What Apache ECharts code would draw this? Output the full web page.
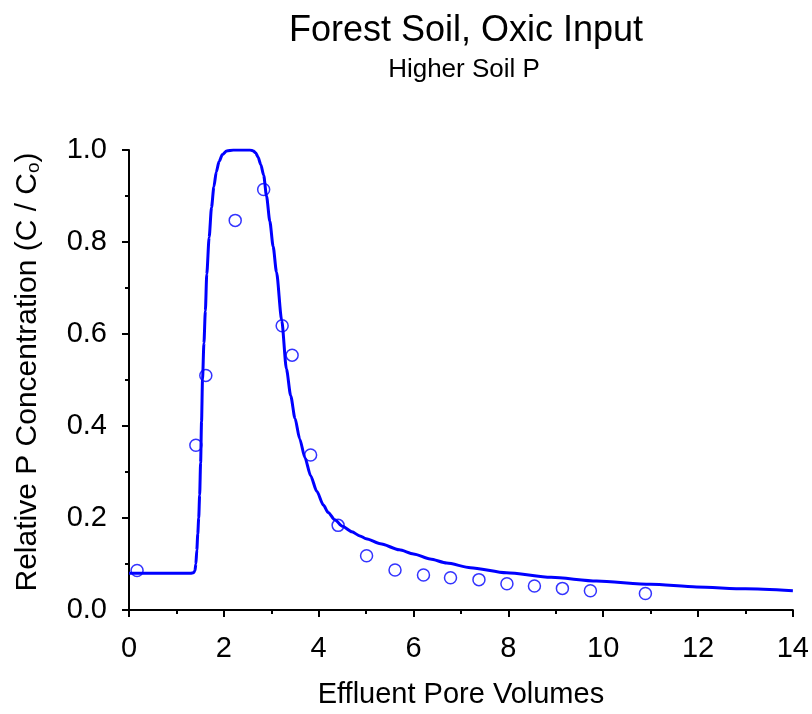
<!DOCTYPE html>
<html>
<head>
<meta charset="utf-8">
<script src="https://cdn.jsdelivr.net/npm/echarts@6/dist/echarts.min.js"></script>
<style>
html,body{margin:0;padding:0;background:#fff;}
#chart{width:812px;height:714px;}
</style>
</head>
<body>
<div id="chart"></div>
<script>
// Model curve
var curveX = [0, 0.5, 1.0, 1.3, 1.36, 1.39, 1.41, 1.43, 1.45, 1.47, 1.49, 1.51, 1.53, 1.55, 1.58, 1.61, 1.64, 1.69, 1.74, 1.79, 1.84, 1.9, 1.97, 2.06, 2.2, 2.4, 2.55, 2.62, 2.67, 2.72, 2.78, 2.84, 2.9, 2.97, 3.04, 3.11, 3.22, 3.32, 3.41, 3.5, 3.6, 3.71, 3.83, 3.96, 4.1, 4.2, 4.34, 4.5, 4.7, 4.87, 5.0, 5.3, 5.7, 6.0, 6.35, 6.7, 7.2, 7.96, 8.9, 9.86, 11.0, 11.97, 13.0, 14.0];
var curveY = [0.080, 0.080, 0.080, 0.080, 0.081, 0.085, 0.10, 0.13, 0.165, 0.20, 0.25, 0.32, 0.41, 0.50, 0.58, 0.65, 0.73, 0.81, 0.875, 0.92, 0.952, 0.975, 0.99, 0.998, 1.0, 1.0, 1.0, 0.998, 0.994, 0.985, 0.968, 0.945, 0.90, 0.845, 0.79, 0.735, 0.63, 0.524, 0.466, 0.417, 0.372, 0.331, 0.292, 0.258, 0.228, 0.212, 0.196, 0.182, 0.170, 0.161, 0.155, 0.144, 0.131, 0.122, 0.111, 0.102, 0.092, 0.081, 0.071, 0.063, 0.056, 0.050, 0.046, 0.042];
// Observed points
var obsX = [0.17, 1.41, 1.62, 2.24, 2.84, 3.23, 3.44, 3.83, 4.41, 5.01, 5.61, 6.21, 6.78, 7.38, 7.97, 8.55, 9.14, 9.73, 10.89];
var obsY = [0.086, 0.358, 0.51, 0.847, 0.914, 0.618, 0.554, 0.337, 0.184, 0.118, 0.087, 0.076, 0.070, 0.066, 0.057, 0.052, 0.047, 0.042, 0.036];
// Texts
var titleText = 'Forest Soil, Oxic Input';
var subText = 'Higher Soil P';
var xName = 'Effluent Pore Volumes';
var yName = 'Relative P Concentration (C / C{s|o})';

var FONT = '"Liberation Sans", Arial, sans-serif';
var curve = curveX.map(function (x, i) { return [x, curveY[i]]; });
var obs = obsX.map(function (x, i) { return [x, obsY[i]]; });

var chart = echarts.init(document.getElementById('chart'), null, {renderer: 'canvas'});
chart.setOption({
  backgroundColor: '#ffffff',
  animation: false,
  title: [
    {text: titleText, left: 461, top: 8, textAlign: 'center',
     textStyle: {fontFamily: FONT, fontSize: 36, fontWeight: 'normal', color: '#000'}},
    {text: subText, left: 459, top: 52, textAlign: 'center',
     textStyle: {fontFamily: FONT, fontSize: 26, fontWeight: 'normal', color: '#000'}}
  ],
  grid: {left: 129, right: 19, top: 150, bottom: 101, containLabel: false},
  xAxis: {
    type: 'value', min: 0, max: 14, interval: 2,
    name: xName, nameLocation: 'middle', nameGap: 70,
    nameTextStyle: {fontFamily: FONT, fontSize: 29, color: '#000'},
    axisLine: {show: true, onZero: false, lineStyle: {color: '#000', width: 2}},
    axisTick: {show: true, inside: false, length: 7, lineStyle: {color: '#000', width: 2}},
    minorTick: {show: true, splitNumber: 2, length: 4, lineStyle: {color: '#000', width: 2}},
    axisLabel: {fontFamily: FONT, fontSize: 29, color: '#000', margin: 24},
    splitLine: {show: false}
  },
  yAxis: {
    type: 'value', min: 0, max: 1, interval: 0.2,
    name: yName, nameLocation: 'middle', nameGap: 86, nameRotate: 90,
    nameTextStyle: {fontFamily: FONT, fontSize: 30, color: '#000', padding: [0, 0, 0, 16],
      rich: {s: {fontFamily: FONT, fontSize: 19, color: '#000', verticalAlign: 'bottom', padding: [12, 0, 0, 0]}}},
    axisLine: {show: true, onZero: false, lineStyle: {color: '#000', width: 2}},
    axisTick: {show: true, inside: false, length: 7, lineStyle: {color: '#000', width: 2}},
    minorTick: {show: true, splitNumber: 2, length: 4, lineStyle: {color: '#000', width: 2}},
    axisLabel: {fontFamily: FONT, fontSize: 29, color: '#000', margin: 22,
      formatter: function (v) { return v.toFixed(1); }},
    splitLine: {show: false}
  },
  series: [
    {type: 'line', data: curve, showSymbol: false, smooth: 0.25, smoothMonotone: 'x',
     lineStyle: {color: '#0000ff', width: 3}, z: 2},
    {type: 'scatter', data: obs, symbol: 'circle', symbolSize: 12,
     itemStyle: {color: 'rgba(0,0,0,0)', borderColor: '#0000ff', borderWidth: 1.5}, z: 3}
  ]
});
</script>
</body>
</html>
